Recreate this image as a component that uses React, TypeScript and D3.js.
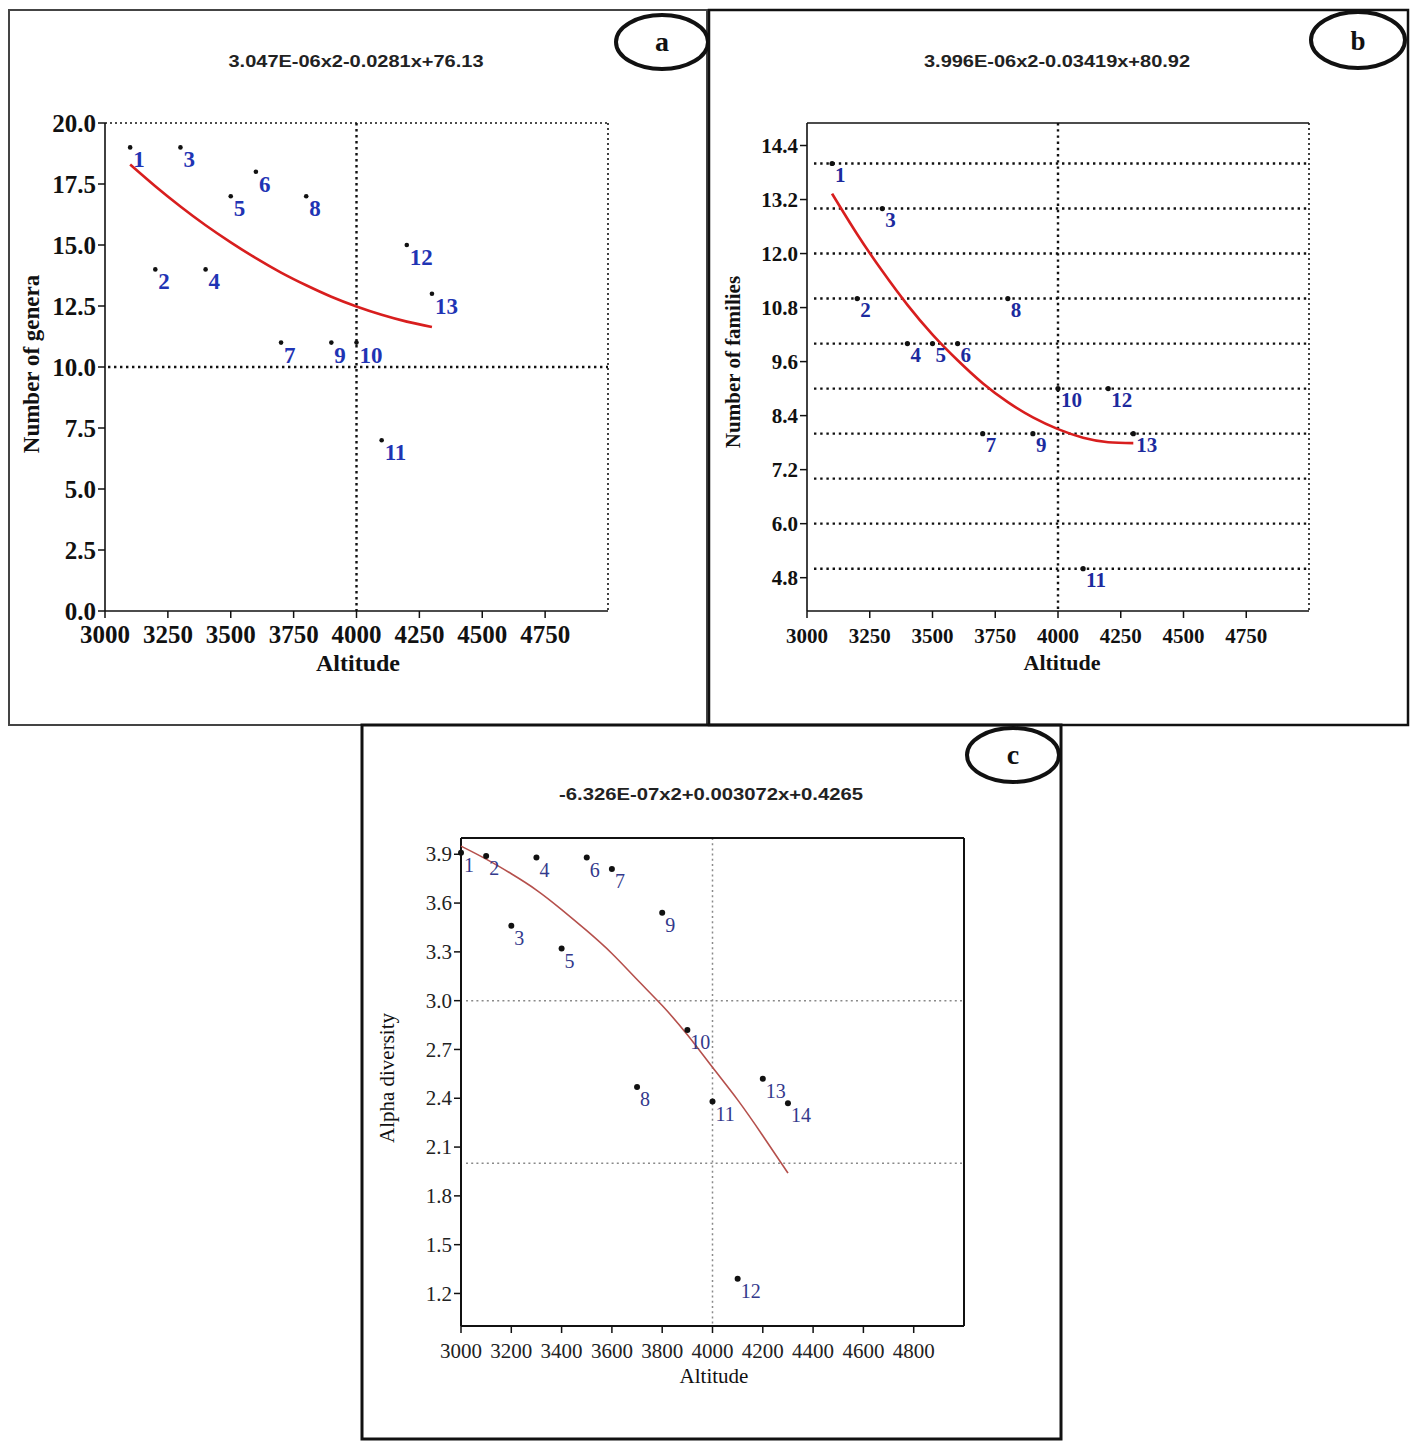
import * as d3 from "d3";

// sites 1..13 (panels a, b)
const SITE_ALTITUDE = [3100, 3200, 3300, 3400, 3500, 3600, 3700, 3800, 3900, 4000, 4100, 4200, 4300];
const GENERA = [19, 14, 19, 14, 17, 18, 11, 17, 11, 11, 7, 15, 13];
const FAMILIES = [14, 11, 13, 10, 10, 10, 8, 11, 8, 9, 5, 9, 8];
// fitted curves at the site altitudes
const GENERA_FIT = [18.3, 17.41, 16.58, 15.81, 15.11, 14.46, 13.87, 13.35, 12.88, 12.48, 12.14, 11.86, 11.64];
const FAMILY_FIT = [13.33, 12.43, 11.61, 10.86, 10.2, 9.63, 9.12, 8.7, 8.36, 8.1, 7.91, 7.81, 7.79];

// sites 1..14 (panel c)
const ALPHA_ALTITUDE = [3000, 3100, 3200, 3300, 3400, 3500, 3600, 3700, 3800, 3900, 4000, 4100, 4200, 4300];
const ALPHA = [3.91, 3.89, 3.46, 3.88, 3.32, 3.88, 3.81, 2.47, 3.54, 2.82, 2.38, 1.29, 2.52, 2.37];
const ALPHA_FIT = [3.95, 3.87, 3.78, 3.68, 3.56, 3.43, 3.29, 3.13, 2.97, 2.79, 2.59, 2.39, 2.17, 1.94];

const X_TICKS_AB = [3000, 3250, 3500, 3750, 4000, 4250, 4500, 4750];
const X_TICKS_C = [3000, 3200, 3400, 3600, 3800, 4000, 4200, 4400, 4600, 4800];
const GENERA_TICKS = [0, 2.5, 5, 7.5, 10, 12.5, 15, 17.5, 20];
const FAMILY_TICKS = [4.8, 6, 7.2, 8.4, 9.6, 10.8, 12, 13.2, 14.4];
const FAMILY_GRID = [5, 6, 7, 8, 9, 10, 11, 12, 13, 14];
const ALPHA_TICKS = [1.2, 1.5, 1.8, 2.1, 2.4, 2.7, 3.0, 3.3, 3.6, 3.9];

const SERIF = "'Liberation Serif', 'DejaVu Serif', serif";
const SANS = "'Liberation Sans', Arial, sans-serif";

type PanelProps = {
  box: { x: number; y: number; w: number; h: number; stroke: string; width: number };
  badge: { cx: number; cy: number; rx: number; ry: number; letter: string; baseline: number; size: number };
  equation: { text: string; x: number; y: number; length: number };
  plot: { left: number; top: number; right: number; bottom: number };
  yDomain: [number, number];
  xTicks: number[];
  yTicks: number[];
  hGrid: number[];
  vGrid: number[];
  grid: { stroke: string; width: number; dash: string; start: number };
  topDotted: boolean;
  rightDotted: boolean;
  frameWidth: number;
  weight: string;
  tickSize: number;
  tickColor: string;
  xTitle: { x: number; y: number; size: number };
  yTitle: { text: string; x: number; y: number; size: number };
  xs: number[];
  ys: number[];
  dot: number;
  label: { dx: number; dy: number; size: number; color: string };
  fitX: number[];
  fitY: number[];
  fitStroke: string;
  fitWidth: number;
};

function ScatterPanel(p: PanelProps) {
  const { left, top, right, bottom } = p.plot;
  const x = d3.scaleLinear().domain([3000, 5000]).range([left, right]);
  const y = d3.scaleLinear().domain(p.yDomain).range([bottom, top]);
  const fit = d3
    .line<number>()
    .x((_, i) => x(p.fitX[i]))
    .y((d) => y(d))
    .curve(d3.curveNatural);

  return (
    <g>
      <rect x={p.box.x} y={p.box.y} width={p.box.w} height={p.box.h} fill="none" stroke={p.box.stroke} strokeWidth={p.box.width} />

      <text x={p.equation.x} y={p.equation.y} fontFamily={SANS} fontSize="16" fontWeight="700" fill="#222" textAnchor="middle" textLength={p.equation.length} lengthAdjust="spacingAndGlyphs">
        {p.equation.text}
      </text>

      {/* grid */}
      {p.hGrid.map((v) => (
        <line key={`h${v}`} x1={p.grid.start} x2={right} y1={y(v)} y2={y(v)} stroke={p.grid.stroke} strokeWidth={p.grid.width} strokeDasharray={p.grid.dash} />
      ))}
      {p.vGrid.map((v) => (
        <line key={`v${v}`} x1={x(v)} x2={x(v)} y1={top} y2={bottom} stroke={p.grid.stroke} strokeWidth={p.grid.width} strokeDasharray={p.grid.dash} />
      ))}

      {/* frame */}
      <line x1={left} x2={right} y1={top} y2={top} stroke="#111" strokeWidth={p.topDotted ? 1.6 : p.frameWidth} strokeDasharray={p.topDotted ? "2 3" : undefined} />
      <line x1={right} x2={right} y1={top} y2={bottom} stroke="#111" strokeWidth={p.rightDotted ? 1.6 : p.frameWidth} strokeDasharray={p.rightDotted ? "2 3" : undefined} />
      <line x1={left} x2={left} y1={top} y2={bottom} stroke="#111" strokeWidth={p.frameWidth} />
      <line x1={left} x2={right} y1={bottom} y2={bottom} stroke="#111" strokeWidth={p.frameWidth} />

      {/* axes */}
      {p.xTicks.map((t) => (
        <g key={`xt${t}`}>
          <line x1={x(t)} x2={x(t)} y1={bottom} y2={bottom + 7} stroke="#111" strokeWidth="1.5" />
          <text x={x(t)} y={bottom + 32} fontFamily={SERIF} fontSize={p.tickSize} fontWeight={p.weight} fill={p.tickColor} textAnchor="middle">
            {t}
          </text>
        </g>
      ))}
      {p.yTicks.map((t) => (
        <g key={`yt${t}`}>
          <line x1={left - 7} x2={left} y1={y(t)} y2={y(t)} stroke="#111" strokeWidth="1.5" />
          <text x={left - 9} y={y(t)} dy="0.34em" fontFamily={SERIF} fontSize={p.tickSize} fontWeight={p.weight} fill={p.tickColor} textAnchor="end">
            {d3.format(".1f")(t)}
          </text>
        </g>
      ))}
      <text x={p.xTitle.x} y={p.xTitle.y} fontFamily={SERIF} fontSize={p.xTitle.size} fontWeight={p.weight} fill="#111" textAnchor="middle">
        Altitude
      </text>
      <text
        x={p.yTitle.x}
        y={p.yTitle.y}
        transform={`rotate(-90 ${p.yTitle.x} ${p.yTitle.y})`}
        fontFamily={SERIF}
        fontSize={p.yTitle.size}
        fontWeight={p.weight}
        fill="#111"
        textAnchor="middle"
        dy="0.35em"
      >
        {p.yTitle.text}
      </text>

      {/* fitted curve */}
      <path d={fit(p.fitY) ?? undefined} fill="none" stroke={p.fitStroke} strokeWidth={p.fitWidth} />

      {/* sites */}
      {p.xs.map((alt, i) => (
        <g key={`p${i}`}>
          <circle cx={x(alt)} cy={y(p.ys[i])} r={p.dot} fill="#111" />
          <text x={x(alt) + p.label.dx} y={y(p.ys[i]) + p.label.dy} fontFamily={SERIF} fontSize={p.label.size} fontWeight={p.weight} fill={p.label.color}>
            {i + 1}
          </text>
        </g>
      ))}

      {/* badge */}
      <ellipse cx={p.badge.cx} cy={p.badge.cy} rx={p.badge.rx} ry={p.badge.ry} fill="#fff" stroke="#111" strokeWidth="4" />
      <text x={p.badge.cx} y={p.badge.baseline} fontFamily={SERIF} fontSize={p.badge.size} fontWeight="700" fill="#111" textAnchor="middle">
        {p.badge.letter}
      </text>
    </g>
  );
}

export default function App() {
  return (
    <svg width={1417} height={1448} style={{ position: "absolute", left: 0, top: 0, background: "#fff" }}>
      <rect x="0" y="0" width="1417" height="1448" fill="#fff" />

      <ScatterPanel
        box={{ x: 9, y: 10, w: 698, h: 715, stroke: "#444", width: 2 }}
        badge={{ cx: 662, cy: 42, rx: 46, ry: 27, letter: "a", baseline: 51, size: 28 }}
        equation={{ text: "3.047E-06x2-0.0281x+76.13", x: 356, y: 67, length: 255 }}
        plot={{ left: 105, top: 123, right: 608, bottom: 611 }}
        yDomain={[0, 20]}
        xTicks={X_TICKS_AB}
        yTicks={GENERA_TICKS}
        hGrid={[10]}
        vGrid={[4000]}
        grid={{ stroke: "#111", width: 2.4, dash: "2.4 3.6", start: 108 }}
        topDotted={true}
        rightDotted={true}
        frameWidth={1.6}
        weight="700"
        tickSize={25}
        tickColor="#111"
        xTitle={{ x: 358, y: 671, size: 24 }}
        yTitle={{ text: "Number of genera", x: 31, y: 364, size: 23 }}
        xs={SITE_ALTITUDE}
        ys={GENERA}
        dot={2.3}
        label={{ dx: 3, dy: 20, size: 23, color: "#1f34b4" }}
        fitX={SITE_ALTITUDE}
        fitY={GENERA_FIT}
        fitStroke="#d81e1e"
        fitWidth={2.6}
      />

      <ScatterPanel
        box={{ x: 709, y: 10, w: 699, h: 715, stroke: "#111", width: 2.5 }}
        badge={{ cx: 1358, cy: 40, rx: 47, ry: 28, letter: "b", baseline: 50, size: 27 }}
        equation={{ text: "3.996E-06x2-0.03419x+80.92", x: 1057, y: 67, length: 266 }}
        plot={{ left: 807, top: 123, right: 1309, bottom: 611 }}
        yDomain={[4.06, 14.9]}
        xTicks={X_TICKS_AB}
        yTicks={FAMILY_TICKS}
        hGrid={FAMILY_GRID}
        vGrid={[4000]}
        grid={{ stroke: "#111", width: 2.4, dash: "2.4 3.8", start: 814 }}
        topDotted={false}
        rightDotted={true}
        frameWidth={1.6}
        weight="700"
        tickSize={21}
        tickColor="#111"
        xTitle={{ x: 1062, y: 670, size: 22 }}
        yTitle={{ text: "Number of families", x: 733, y: 362, size: 21 }}
        xs={SITE_ALTITUDE}
        ys={FAMILIES}
        dot={2.6}
        label={{ dx: 3, dy: 18, size: 21, color: "#1c2a9e" }}
        fitX={SITE_ALTITUDE}
        fitY={FAMILY_FIT}
        fitStroke="#d81e1e"
        fitWidth={2.6}
      />

      <ScatterPanel
        box={{ x: 362, y: 725, w: 699, h: 714, stroke: "#111", width: 3 }}
        badge={{ cx: 1013, cy: 755, rx: 46, ry: 27, letter: "c", baseline: 764, size: 28 }}
        equation={{ text: "-6.326E-07x2+0.003072x+0.4265", x: 711, y: 800, length: 304 }}
        plot={{ left: 461, top: 838, right: 964, bottom: 1326 }}
        yDomain={[1, 4]}
        xTicks={X_TICKS_C}
        yTicks={ALPHA_TICKS}
        hGrid={[2, 3]}
        vGrid={[4000]}
        grid={{ stroke: "#8a8a8a", width: 1.5, dash: "2 3.2", start: 466 }}
        topDotted={false}
        rightDotted={false}
        frameWidth={2}
        weight="400"
        tickSize={21}
        tickColor="#222"
        xTitle={{ x: 714, y: 1383, size: 21 }}
        yTitle={{ text: "Alpha diversity", x: 387, y: 1078, size: 21 }}
        xs={ALPHA_ALTITUDE}
        ys={ALPHA}
        dot={3}
        label={{ dx: 3, dy: 19, size: 20, color: "#33398c" }}
        fitX={ALPHA_ALTITUDE}
        fitY={ALPHA_FIT}
        fitStroke="#b5504c"
        fitWidth={1.6}
      />
    </svg>
  );
}
